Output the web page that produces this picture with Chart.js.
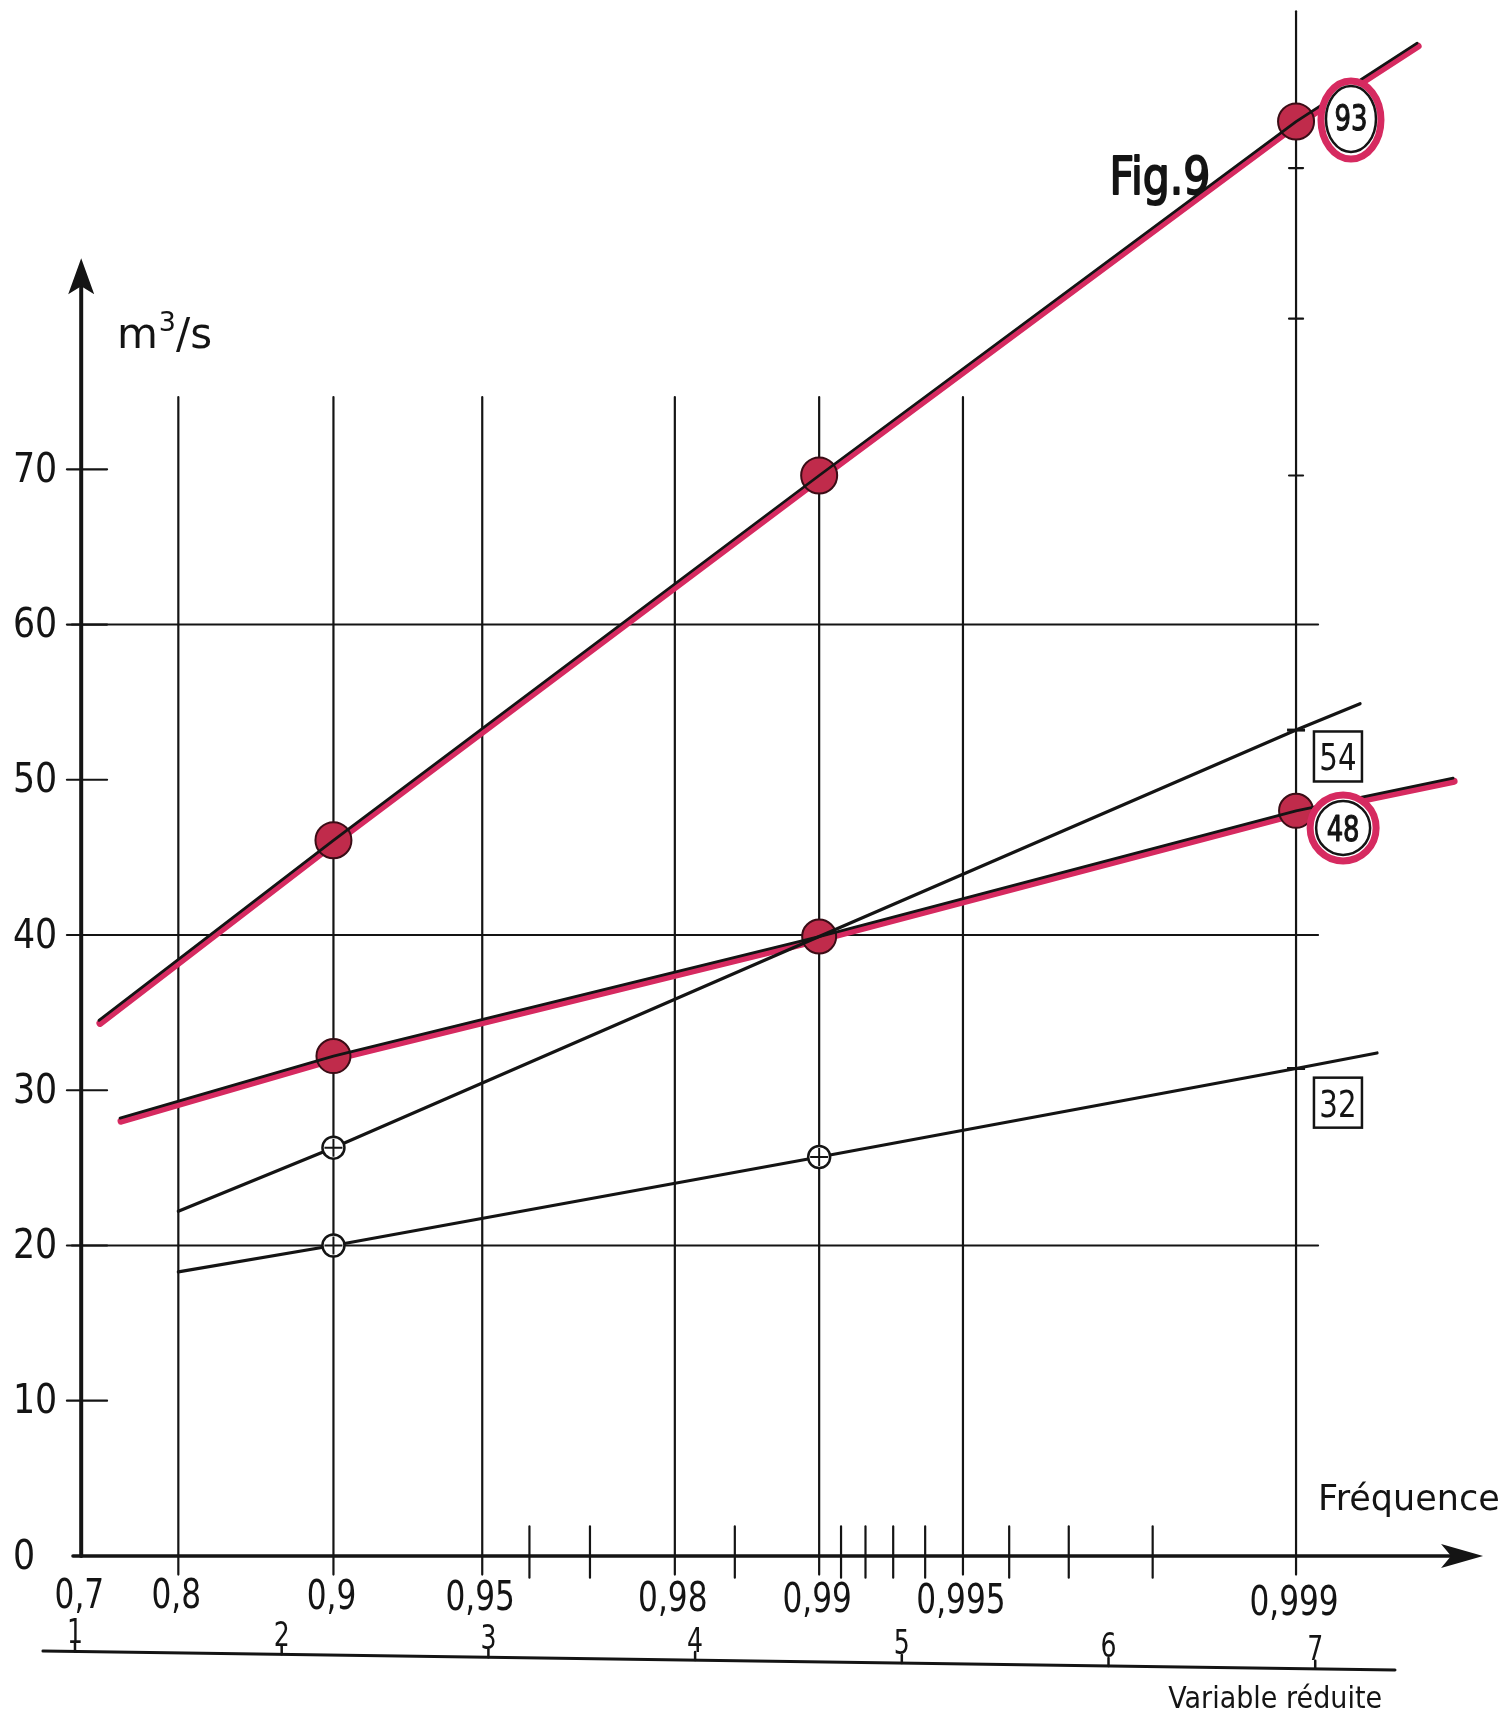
<!DOCTYPE html>
<html><head><meta charset="utf-8">
<script src="https://cdn.jsdelivr.net/npm/chart.js@4/dist/chart.umd.min.js"></script>
<style>html,body{margin:0;padding:0;background:#fff;}canvas{display:block}</style>
</head><body>
<canvas id="c" width="1512" height="1723"></canvas>
<script>
// ---------- data ----------
// frequency axis (Gumbel paper): labelled frequencies
const freqLabelValues = [0.7, 0.8, 0.9, 0.95, 0.98, 0.99, 0.995, 0.999];
const freqLabelTexts  = ['0,7', '0,8', '0,9', '0,95', '0,98', '0,99', '0,995', '0,999'];
const freqGridValues  = [0.8, 0.9, 0.95, 0.98, 0.99, 0.995];
const freqLongValues  = [0.999];
const freqMinorValues = [0.96, 0.97, 0.985, 0.991, 0.992, 0.993, 0.994, 0.996, 0.997, 0.998];
// reduced variable axis
const reducedTicks = [1, 2, 3, 4, 5, 6, 7];
// discharge axis (m3/s)
const yTickValues = [0, 10, 20, 30, 40, 50, 60, 70];
const yGridValues = [20, 40, 60];
const longLineTicks = [69.6, 79.7, 89.4];

// plotted frequencies of the points
const pointFreqs = [0.9, 0.99, 0.999];
// red line "93"
const redA_Q     = [46.1, 69.6, 92.4];
const redA_start = [1.116, 34.5];   // [reduced variable, m3/s]
const redA_end   = [7.493, 97.45];
// red line "48"
const redB_Q     = [32.2, 39.9, 48.0];
const redB_start = [1.218, 28.2];
const redB_end   = [7.667, 50.1];
// black line "54"
const blackC_Q     = [26.3, 39.9, 53.2];
const blackC_start = [0.8, 22.2];   // [frequency, m3/s]
const blackC_end   = [7.217, 54.9];
// black line "32"
const blackD_Q     = [20.0, 25.7, 31.4];
const blackD_start = [0.8, 18.3];
const blackD_end   = [7.299, 32.4];
// end labels
const endLabels = ['93', '48', '54', '32'];

// ---------- helpers ----------
const G = F => -Math.log(-Math.log(F));   // Gumbel reduced variable
const pts = (qs) => pointFreqs.map((f, i) => ({x: G(f), y: qs[i]}));
const lineData = (start, qs, end, startIsFreq) => [
  {x: startIsFreq ? G(start[0]) : start[0], y: start[1]},
  ...pts(qs),
  {x: end[0], y: end[1]}
];
const PINK = '#d62a60';
const RED = '#c02b4b';
const INK = '#141414';

const lineDs = (data, color, width, order, shift) => ({
  data, showLine: true, borderColor: color, borderWidth: width, pointRadius: 0,
  tension: 0, order, shiftY: shift || 0, borderCapStyle: 'round', fill: false
});

const datasets = [
  lineDs(lineData(redA_start, redA_Q, redA_end, false), PINK, 7, 20, 3),
  lineDs(lineData(redB_start, redB_Q, redB_end, false), PINK, 7, 20, 3),
  // red markers
  {data: pts(redA_Q), showLine: false, pointRadius: 18, pointBackgroundColor: RED,
   pointBorderColor: '#3a0d16', pointBorderWidth: 2, order: 15},
  {data: pts(redB_Q), showLine: false, pointRadius: 17, pointBackgroundColor: RED,
   pointBorderColor: '#3a0d16', pointBorderWidth: 2, order: 15},
  lineDs(lineData(redA_start, redA_Q, redA_end, false), INK, 2.8, 10),
  lineDs(lineData(redB_start, redB_Q, redB_end, false), INK, 2.8, 10),
  lineDs(lineData(blackC_start, blackC_Q, blackC_end, true), INK, 3.2, 10),
  lineDs(lineData(blackD_start, blackD_Q, blackD_end, true), INK, 3.2, 10),
  // open circled-cross markers
  {data: [pts(blackC_Q)[0], pts(blackD_Q)[0], pts(blackD_Q)[1]], showLine: false,
   pointRadius: 11, pointBackgroundColor: '#fff', pointBorderColor: INK, pointBorderWidth: 2.5, order: 5},
  {data: [pts(blackC_Q)[0], pts(blackD_Q)[0], pts(blackD_Q)[1]], showLine: false, pointStyle: 'cross',
   pointRadius: 9, pointBorderColor: INK, pointBorderWidth: 2, order: 4},
  // tick marks where black lines cross 0.999
  {data: [pts(blackC_Q)[2], pts(blackD_Q)[2]], showLine: false, pointStyle: 'line',
   pointRadius: 9, pointBorderColor: INK, pointBorderWidth: 3, order: 4}
];

function txt(ctx, s, x, cy, size, sx, align, weight, thicken) {
  ctx.save();
  ctx.font = (weight || 'normal') + ' ' + size + 'px "DejaVu Sans", sans-serif';
  ctx.textAlign = align || 'center';
  ctx.textBaseline = 'alphabetic';
  ctx.fillStyle = INK;
  ctx.translate(x, cy + 0.365 * size);
  ctx.scale(sx, 1);
  ctx.fillText(s, 0, 0);
  if (thicken) { ctx.strokeStyle = INK; ctx.lineWidth = thicken; ctx.lineJoin = 'round'; ctx.strokeText(s, 0, 0); }
  ctx.restore();
}
function seg(ctx, x1, y1, x2, y2) { ctx.beginPath(); ctx.moveTo(x1, y1); ctx.lineTo(x2, y2); ctx.stroke(); }

const shiftPlugin = {
  id: 'shift',
  beforeDatasetDraw(chart, args) {
    const ds = chart.data.datasets[args.index];
    chart.ctx.save();
    if (ds.shiftY) chart.ctx.translate(1, ds.shiftY);
  },
  afterDatasetDraw(chart) { chart.ctx.restore(); }
};

const paperPlugin = {
  id: 'paper',
  beforeDatasetsDraw(chart) {
    const ctx = chart.ctx, xs = chart.scales.x, ys = chart.scales.y;
    const X = v => xs.getPixelForValue(v), Y = v => ys.getPixelForValue(v);
    ctx.save();
    ctx.strokeStyle = INK; ctx.fillStyle = INK; ctx.lineCap = 'round';
    // horizontal grid
    ctx.lineWidth = 2;
    yGridValues.forEach(q => seg(ctx, X(0.985), Y(q), X(7.014), Y(q)));
    // vertical grid
    ctx.lineWidth = 2.2;
    freqGridValues.forEach(f => seg(ctx, X(G(f)), Y(-1.2), X(G(f)), Y(74.65)));
    freqLongValues.forEach(f => {
      seg(ctx, X(G(f)), Y(-1.2), X(G(f)), Y(99.5));
      longLineTicks.forEach(q => seg(ctx, X(G(f)) - 7, Y(q), X(G(f)) + 7, Y(q)));
    });
    // minor ticks on frequency axis
    freqMinorValues.forEach(f => seg(ctx, X(G(f)), Y(1.9), X(G(f)), Y(-1.4)));
    // y ticks
    yTickValues.filter(v => v > 0).forEach(q => seg(ctx, X(0.961), Y(q), X(1.155), Y(q)));
    // x axis with arrow
    ctx.lineWidth = 3.4;
    seg(ctx, X(0.99), Y(0), X(7.75), Y(0));
    const tipX = X(7.812), ay = Y(0);
    ctx.beginPath(); ctx.moveTo(tipX, ay); ctx.lineTo(tipX - 42, ay - 12); ctx.lineTo(tipX - 32, ay);
    ctx.lineTo(tipX - 42, ay + 12); ctx.closePath(); ctx.fill();
    // y axis with arrow
    ctx.lineWidth = 4;
    const ax = X(1.03);
    seg(ctx, ax, Y(0), ax, Y(82));
    const tipY = Y(83.6);
    ctx.beginPath(); ctx.moveTo(ax, tipY); ctx.lineTo(ax - 13, tipY + 36); ctx.lineTo(ax, tipY + 28);
    ctx.lineTo(ax + 13, tipY + 36); ctx.closePath(); ctx.fill();
    // reduced variable axis (hand-drawn, slightly slanting down to the right)
    const rL = 0.845, rR = 7.386, qL = -6.12, qR = -7.34;
    const qAt = r => qL + (qR - qL) * (r - rL) / (rR - rL);
    ctx.lineWidth = 3;
    seg(ctx, X(rL), Y(qL), X(rR), Y(qR));
    ctx.lineWidth = 2.5;
    reducedTicks.forEach(r => seg(ctx, X(r), Y(qAt(r)), X(r), Y(qAt(r)) - 8));
    // y labels
    yTickValues.forEach(q => txt(ctx, String(q), X(0.70), Y(q) - 2, 40, 0.87, 'left'));
    // frequency labels
    freqLabelValues.forEach((f, i) => txt(ctx, freqLabelTexts[i], X(G(f)) - 2, Y(-2.4 - 0.08 * (G(f) - 1)), 40, 0.78, 'center'));
    // reduced labels
    reducedTicks.forEach(r => txt(ctx, String(r), X(r), Y(qAt(r)) - 21, 34, 0.74, 'center'));
    // axis titles
    ctx.font = 'normal 42px "DejaVu Sans", sans-serif';
    ctx.textAlign = 'left'; ctx.textBaseline = 'alphabetic';
    const mx = X(1.203), my = Y(77.8);
    ctx.fillText('m', mx, my);
    const mw = ctx.measureText('m').width;
    ctx.font = 'normal 27px "DejaVu Sans", sans-serif';
    ctx.fillText('3', mx + mw + 1, my - 17);
    const tw = ctx.measureText('3').width;
    ctx.font = 'normal 42px "DejaVu Sans", sans-serif';
    ctx.fillText('/s', mx + mw + tw + 1, my);
    txt(ctx, 'Fréquence', X(7.014), Y(3.8), 35, 1.0, 'left');
    txt(ctx, 'Variable réduite', X(6.806), Y(-9.08), 30, 0.9, 'center');
    txt(ctx, 'Fig.9', X(6.249), Y(88.95), 52, 0.82, 'center', 'normal', 2);
    ctx.restore();
  },
  afterDatasetsDraw(chart) {
    const ctx = chart.ctx, xs = chart.scales.x, ys = chart.scales.y;
    const X = v => xs.getPixelForValue(v), Y = v => ys.getPixelForValue(v);
    ctx.save();
    // "93" circled
    let cx = X(7.173), cy = Y(92.5);
    ctx.fillStyle = '#fff';
    ctx.beginPath(); ctx.ellipse(cx, cy, 30, 39, 0, 0, Math.PI * 2); ctx.fill();
    ctx.strokeStyle = PINK; ctx.lineWidth = 7;
    ctx.beginPath(); ctx.ellipse(cx, cy, 30, 39, 0, 0, Math.PI * 2); ctx.stroke();
    ctx.strokeStyle = INK; ctx.lineWidth = 2.5;
    ctx.beginPath(); ctx.ellipse(cx, cy - 1, 25, 33, 0, 0, Math.PI * 2); ctx.stroke();
    txt(ctx, endLabels[0], cx, cy - 3, 36, 0.72, 'center', 'normal', 1.2);
    // "48" circled
    cx = X(7.135); cy = Y(46.9);
    ctx.fillStyle = '#fff';
    ctx.beginPath(); ctx.arc(cx, cy, 33, 0, Math.PI * 2); ctx.fill();
    ctx.strokeStyle = PINK; ctx.lineWidth = 7;
    ctx.beginPath(); ctx.arc(cx, cy, 33, 0, Math.PI * 2); ctx.stroke();
    ctx.strokeStyle = INK; ctx.lineWidth = 2.5;
    ctx.beginPath(); ctx.arc(cx, cy, 27, 0, Math.PI * 2); ctx.stroke();
    txt(ctx, endLabels[1], cx, cy, 36, 0.72, 'center', 'normal', 1.2);
    // boxed labels
    [[endLabels[2], 51.5], [endLabels[3], 29.2]].forEach(([s, q]) => {
      const bx = X(7.110), by = Y(q);
      ctx.fillStyle = '#fff';
      ctx.fillRect(bx - 24, by - 25, 48, 50);
      ctx.strokeStyle = INK; ctx.lineWidth = 2.5;
      ctx.strokeRect(bx - 24, by - 25, 48, 50);
      txt(ctx, s, bx, by, 38, 0.77, 'center');
    });
    ctx.restore();
  }
};

new Chart(document.getElementById('c'), {
  type: 'scatter',
  data: {datasets},
  options: {
    responsive: false, devicePixelRatio: 1, animation: false,
    layout: {padding: 0, autoPadding: false},
    plugins: {legend: {display: false}, tooltip: {enabled: false}},
    scales: {
      x: {type: 'linear', min: 0.6372, max: 7.952, display: false},
      y: {type: 'linear', min: -10.76, max: 100.23, display: false}
    }
  },
  plugins: [shiftPlugin, paperPlugin]
});
</script>
</body></html>
